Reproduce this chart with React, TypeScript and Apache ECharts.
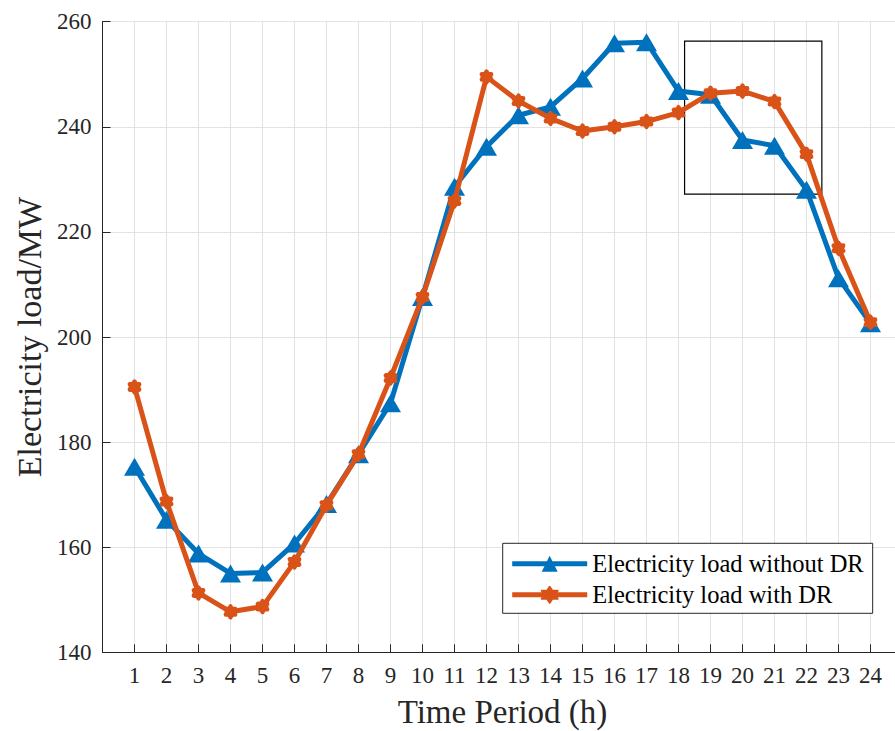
import React, { useEffect, useRef } from "react";
import * as echarts from "echarts";

const hours = [1, 2, 3, 4, 5, 6, 7, 8, 9, 10, 11, 12, 13, 14, 15, 16, 17, 18, 19, 20, 21, 22, 23, 24];
const loadWithoutDR = [175.3, 165.2, 158.8, 155.0, 155.2, 160.7, 168.2, 177.7, 187.4, 207.6, 228.6, 236.2, 242.2, 243.8, 249.2, 255.9, 256.1, 246.8, 246.1, 237.5, 236.4, 228.0, 211.2, 202.6];
const loadWithDR = [190.5, 168.7, 151.3, 147.7, 148.7, 157.2, 168.0, 177.7, 192.2, 207.6, 225.9, 249.5, 244.9, 241.6, 239.2, 240.0, 241.0, 242.7, 246.4, 246.8, 244.8, 234.8, 216.9, 202.8];
const seriesNames = ["Electricity load without DR", "Electricity load with DR"];
const zoomBoxX = [18.19, 22.48];
const zoomBoxY = [227.2, 256.3];

const HEXAGRAM =
  "path://M100 0 L128.9 50 L186.6 50 L157.7 100 L186.6 150 L128.9 150 L100 200 L71.1 150 L13.4 150 L42.3 100 L13.4 50 L71.1 50 Z";

const FONT = "'Liberation Serif', 'Times New Roman', serif";
const AXIS_COLOR = "#262626";

export default function App() {
  const ref = useRef<HTMLDivElement>(null);
  useEffect(() => {
    if (!ref.current) return;
    const chart = echarts.init(ref.current, null, { renderer: "svg" });
    const blue = "#0072BD";
    const orange = "#D95319";
    chart.setOption({
      animation: false,
      backgroundColor: "#ffffff",
      grid: {
        left: 102.5,
        top: 21.7,
        width: 800,
        height: 630.6,
        containLabel: false,
        outerBoundsMode: "none",
      },
      legend: {
        orient: "vertical",
        left: 502.7,
        top: 543.3,
        z: 6,
        data: seriesNames,
        backgroundColor: "#ffffff",
        borderColor: "#262626",
        borderWidth: 1,
        borderRadius: 0,
        padding: [8, 9, 6, 7],
        itemGap: 6,
        itemWidth: 75,
        itemHeight: 20,
        lineStyle: { width: 5 },
        textStyle: {
          fontFamily: FONT,
          fontSize: 24.5,
          color: "#000",
          width: 272,
          overflow: "none",
        },
      },
      xAxis: {
        type: "value",
        min: 0,
        max: 25,
        interval: 1,
        name: "Time Period (h)",
        nameLocation: "middle",
        nameGap: 46,
        nameTextStyle: { fontFamily: FONT, fontSize: 33, lineHeight: 28, color: "#262626" },
        axisLine: { show: true, lineStyle: { color: AXIS_COLOR, width: 1 } },
        axisTick: { show: true, inside: true, length: 8, lineStyle: { color: AXIS_COLOR } },
        axisLabel: {
          fontFamily: FONT,
          fontSize: 23,
          color: AXIS_COLOR,
          margin: 12,
          showMinLabel: false,
          showMaxLabel: false,
          formatter: (v: number) => (v >= 1 && v <= 24 ? String(v) : ""),
        },
        splitLine: { show: true, lineStyle: { color: "#e3e3e3", width: 1 } },
      },
      yAxis: {
        type: "value",
        min: 140,
        max: 260,
        interval: 20,
        name: "Electricity load/MW",
        nameLocation: "middle",
        nameGap: 54,
        nameTextStyle: { fontFamily: FONT, fontSize: 34, color: "#262626" },
        axisLine: { show: true, lineStyle: { color: AXIS_COLOR, width: 1 } },
        axisTick: { show: true, inside: true, length: 8, lineStyle: { color: AXIS_COLOR } },
        axisLabel: { fontFamily: FONT, fontSize: 23, color: AXIS_COLOR, margin: 11 },
        splitLine: { show: true, lineStyle: { color: "#e3e3e3", width: 1 } },
      },
      series: [
        {
          name: seriesNames[0],
          type: "line",
          data: hours.map((h, i) => [h, loadWithoutDR[i]]),
          symbol: "triangle",
          symbolSize: [21, 18],
          lineStyle: { color: blue, width: 5 },
          itemStyle: { color: blue },
          z: 3,
          markArea: {
            silent: true,
            itemStyle: { color: "rgba(0,0,0,0)", borderColor: "#000", borderWidth: 1.2 },
            label: { show: false },
            data: [[{ coord: [zoomBoxX[0], zoomBoxY[1]] }, { coord: [zoomBoxX[1], zoomBoxY[0]] }]],
          },
        },
        {
          name: seriesNames[1],
          type: "line",
          data: hours.map((h, i) => [h, loadWithDR[i]]),
          symbol: HEXAGRAM,
          symbolSize: [9.5, 10.5],
          lineStyle: { color: orange, width: 5 },
          itemStyle: { color: orange, borderColor: orange, borderWidth: 4.5, borderJoin: "round" },
          z: 4,
        },
      ],
    });
    return () => chart.dispose();
  }, []);
  return (
    <div
      ref={ref}
      style={{ position: "fixed", left: 0, top: 0, width: 910, height: 731, background: "#fff" }}
    />
  );
}
